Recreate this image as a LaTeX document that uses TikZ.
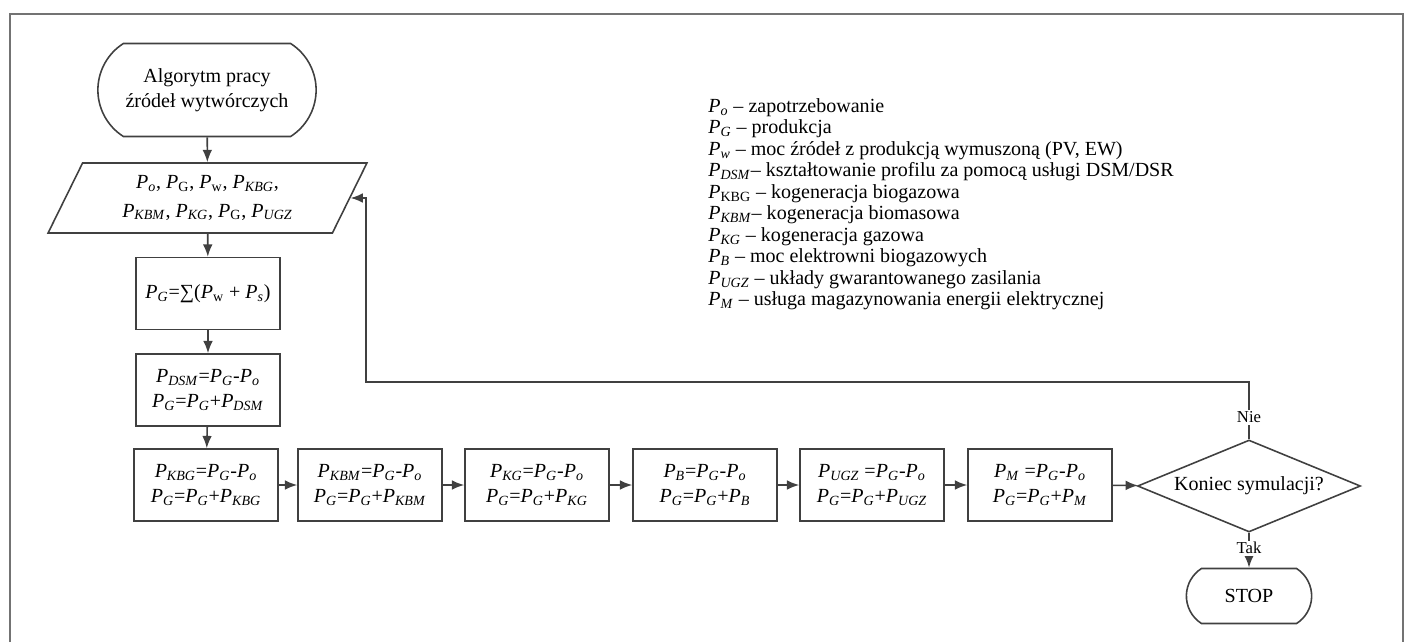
\documentclass[tikz,border=0pt]{standalone}
\usepackage{fontspec}
\setmainfont{Liberation Serif}
\usetikzlibrary{shapes.geometric,shapes.misc,arrows.meta}

% moc z indeksem kursywa / prosty
\newcommand{\Pit}[1]{\textit{P}\textsubscript{\textit{#1}}}
\newcommand{\Pup}[1]{\textit{P}\textsubscript{#1}}

\begin{document}
\begin{tikzpicture}[
    x=0.02cm, y=-0.02cm,
    % Styl dla blokow obliczen
    blok/.style={
        rectangle,
        draw=black!75,
        line width=0.9pt,
        fill=white,
        minimum width=2.88cm,
        minimum height=1.44cm,
        align=center,
        font=\fontsize{11.4}{14.5}\selectfont
    },
    % Styl dla START/STOP
    startstop/.style={
        rounded rectangle,
        rounded rectangle arc length=115,
        draw=black!75,
        line width=0.9pt,
        align=center,
        font=\fontsize{11.4}{14.2}\selectfont
    },
    % Styl dla danych wejsciowych (rownoleglobok)
    wejscie/.style={
        trapezium,
        trapezium left angle=62,
        trapezium right angle=118,
        trapezium stretches=true,
        draw=black!75,
        line width=0.9pt,
        inner sep=0pt,
        align=center,
        font=\fontsize{11.4}{16}\selectfont
    },
    % Styl dla warunku
    decyzja/.style={
        diamond,
        aspect=2.4,
        draw=black!75,
        line width=0.9pt,
        inner sep=0pt,
        minimum width=4.46cm,
        minimum height=1.84cm,
        font=\fontsize{11.4}{14}\selectfont
    },
    % Styl dla strzalek
    strzalka/.style={
        ->,
        >={Latex[length=7pt,width=5.5pt]},
        draw=black!75,
        line width=0.9pt
    },
    % Styl dla opisow Tak/Nie
    etykieta/.style={
        fill=white,
        inner sep=1pt,
        font=\fontsize{9.5}{10}\selectfont
    }
]
    \useasboundingbox (0,0) rectangle (1408,642);

    % --- RAMKA ---
    \draw[black!55, line width=1.1pt] (10,642) -- (10,14) -- (1403,14) -- (1403,642);

    % --- KOLUMNA LEWA ---
    \node[startstop, minimum width=4.6cm, minimum height=1.86cm] (start) at (207,90) {Algorytm pracy\\źródeł wytwórczych};
    \node[wejscie, minimum width=6.38cm, minimum height=1.4cm] (dane) at (207.5,198)
        {\Pit{o}, \Pup{G}, \Pup{w}, \Pit{KBG},\\\Pit{KBM}, \Pit{KG}, \Pup{G}, \Pit{UGZ}};
    \node[blok] (suma) at (208,293.5) {\Pit{G}=∑(\Pup{w} + \Pit{s})};
    \node[blok] (dsm)  at (208,390)   {\Pit{DSM}=\Pit{G}-\Pit{o}\\\Pit{G}=\Pit{G}+\Pit{DSM}};

    % --- WIERSZ DOLNY ---
    \node[blok] (kbg) at (206,485)  {\Pit{KBG}=\Pit{G}-\Pit{o}\\\Pit{G}=\Pit{G}+\Pit{KBG}};
    \node[blok] (kbm) at (370,485)  {\Pit{KBM}=\Pit{G}-\Pit{o}\\\Pit{G}=\Pit{G}+\Pit{KBM}};
    \node[blok] (kg)  at (537,485)  {\Pit{KG}=\Pit{G}-\Pit{o}\\\Pit{G}=\Pit{G}+\Pit{KG}};
    \node[blok] (b)   at (705,485)  {\Pit{B}=\Pit{G}-\Pit{o}\\\Pit{G}=\Pit{G}+\Pit{B}};
    \node[blok] (ugz) at (872,485)  {\Pit{UGZ} =\Pit{G}-\Pit{o}\\\Pit{G}=\Pit{G}+\Pit{UGZ}};
    \node[blok] (m)   at (1040,485) {\Pit{M} =\Pit{G}-\Pit{o}\\\Pit{G}=\Pit{G}+\Pit{M}};

    % --- WARUNEK I KONIEC ---
    \node[decyzja] (dec) at (1249,486) {Koniec symulacji?};
    \node[startstop, minimum width=2.74cm, minimum height=1.1cm] (stop) at (1249,596) {STOP};

    % --- LEGENDA ---
    \node[anchor=north west, inner sep=0pt, align=left, font=\fontsize{11.4}{12.25}\selectfont] (legenda) at (708,98) {%
        \Pit{o} – zapotrzebowanie\\
        \Pit{G} – produkcja\\
        \Pit{w} – moc źródeł z produkcją wymuszoną (PV, EW)\\
        \Pit{DSM}– kształtowanie profilu za pomocą usługi DSM/DSR\\
        \Pup{KBG} – kogeneracja biogazowa\\
        \Pit{KBM}– kogeneracja biomasowa\\
        \Pit{KG} – kogeneracja gazowa\\
        \Pit{B} – moc elektrowni biogazowych\\
        \Pit{UGZ} – układy gwarantowanego zasilania\\
        \Pit{M} – usługa magazynowania energii elektrycznej};

    % --- POLACZENIA ---
    \draw[strzalka] (start) -- (dane);
    \draw[strzalka] (dane) -- (suma);
    \draw[strzalka] (suma) -- (dsm);
    \draw[strzalka] (dsm) -- (kbg);
    \draw[strzalka] (kbg) -- (kbm);
    \draw[strzalka] (kbm) -- (kg);
    \draw[strzalka] (kg) -- (b);
    \draw[strzalka] (b) -- (ugz);
    \draw[strzalka] (ugz) -- (m);
    \draw[strzalka] (m) -- (dec);
    \draw[strzalka] (dec) -- node[etykieta, pos=0.44] {Tak} (stop);

    % --- POWROT (Nie) ---
    \coordinate (gora)  at (1249,382);
    \coordinate (zwrot) at (366,382);
    \draw[strzalka] (dec.north) -- node[etykieta, pos=0.38] {Nie} (gora) -- (zwrot) |- (dane.east);

\end{tikzpicture}
\end{document}
